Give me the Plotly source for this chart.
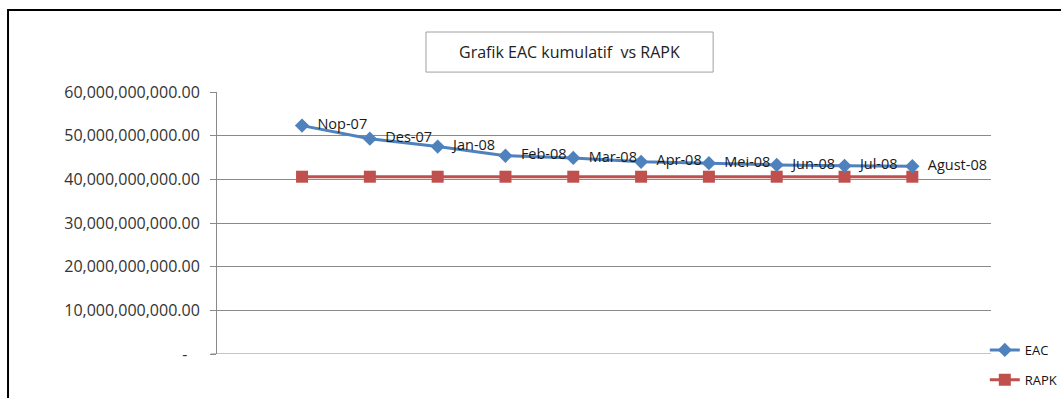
import plotly.graph_objects as go

categories = ["Nop-07", "Des-07", "Jan-08", "Feb-08", "Mar-08", "Apr-08",
              "Mei-08", "Jun-08", "Jul-08", "Agust-08"]
eac = [52.3e9, 49.3e9, 47.5e9, 45.4e9, 44.9e9, 44.0e9, 43.7e9, 43.3e9, 43.1e9, 43.0e9]
rapk = [40.6e9] * 10
tick_vals = [0, 10e9, 20e9, 30e9, 40e9, 50e9, 60e9]
tick_text = ["-\u00a0\u00a0\u00a0", "10,000,000,000.00", "20,000,000,000.00", "30,000,000,000.00",
             "40,000,000,000.00", "50,000,000,000.00", "60,000,000,000.00"]
title_text = "Grafik EAC kumulatif  vs RAPK"

FONT = "Open Sans"

fig = go.Figure()
fig.add_trace(go.Scatter(
    x=categories, y=rapk, name="RAPK", mode="lines+markers",
    line=dict(color="#C0504D", width=3),
    marker=dict(symbol="square", size=12, color="#C0504D"),
    legendgroup="b", legendrank=2,
))
fig.add_trace(go.Scatter(
    x=categories, y=eac, name="EAC", mode="lines+markers+text",
    line=dict(color="#4F81BD", width=3),
    marker=dict(symbol="diamond", size=11, color="#4F81BD"),
    text=["  " + c for c in categories], textposition="middle right",
    textfont=dict(family=FONT, size=14.5, color="#1a1a1a"),
    legendgroup="a", legendrank=1,
))

fig.update_layout(
    width=1061, height=398,
    margin=dict(l=217, r=70, t=92, b=44, autoexpand=False),
    paper_bgcolor="white", plot_bgcolor="white",
    font=dict(family=FONT, size=12, color="#222222"),
    showlegend=True,
    legend=dict(x=0.992, y=0.0725, xanchor="left", yanchor="top",
                bgcolor="rgba(0,0,0,0)", font=dict(size=13, color="#111111"),
                traceorder="grouped", tracegroupgap=10, itemwidth=30),
    xaxis=dict(type="category", range=[-1.254, 10.16], showticklabels=False,
               showgrid=False, zeroline=False, showline=False, ticks=""),
    yaxis=dict(range=[0, 60e9], tickvals=tick_vals, ticktext=tick_text,
               showgrid=True, gridcolor="#8a8a8a", gridwidth=1,
               zeroline=False, showline=True, linecolor="#8a8a8a", linewidth=1,
               ticks="outside", ticklen=6, tickcolor="#8a8a8a",
               ticklabelstandoff=7,
               tickfont=dict(family=FONT, size=16, color="#333333")),
    shapes=[
        dict(type="rect", xref="paper", yref="paper",
             x0=-0.270, x1=1.2, y0=-0.3, y1=1.313,
             line=dict(color="black", width=2), fillcolor="rgba(0,0,0,0)", layer="below"),
        dict(type="rect", xref="paper", yref="paper",
             x0=0.270, x1=0.641, y0=1.076, y1=1.229,
             line=dict(color="#a0a0a0", width=1), fillcolor="white"),
        dict(type="line", xref="paper", yref="y", x0=-0.008, x1=1.0, y0=0, y1=0,
             line=dict(color="#8a8a8a", width=1)),
    ],
    annotations=[
        dict(text=title_text, xref="paper", yref="paper", x=0.4555, y=1.1525,
             xanchor="center", yanchor="middle", showarrow=False,
             font=dict(family=FONT, size=16, color="#222222")),
    ],
)

fig.write_html("out.html")
